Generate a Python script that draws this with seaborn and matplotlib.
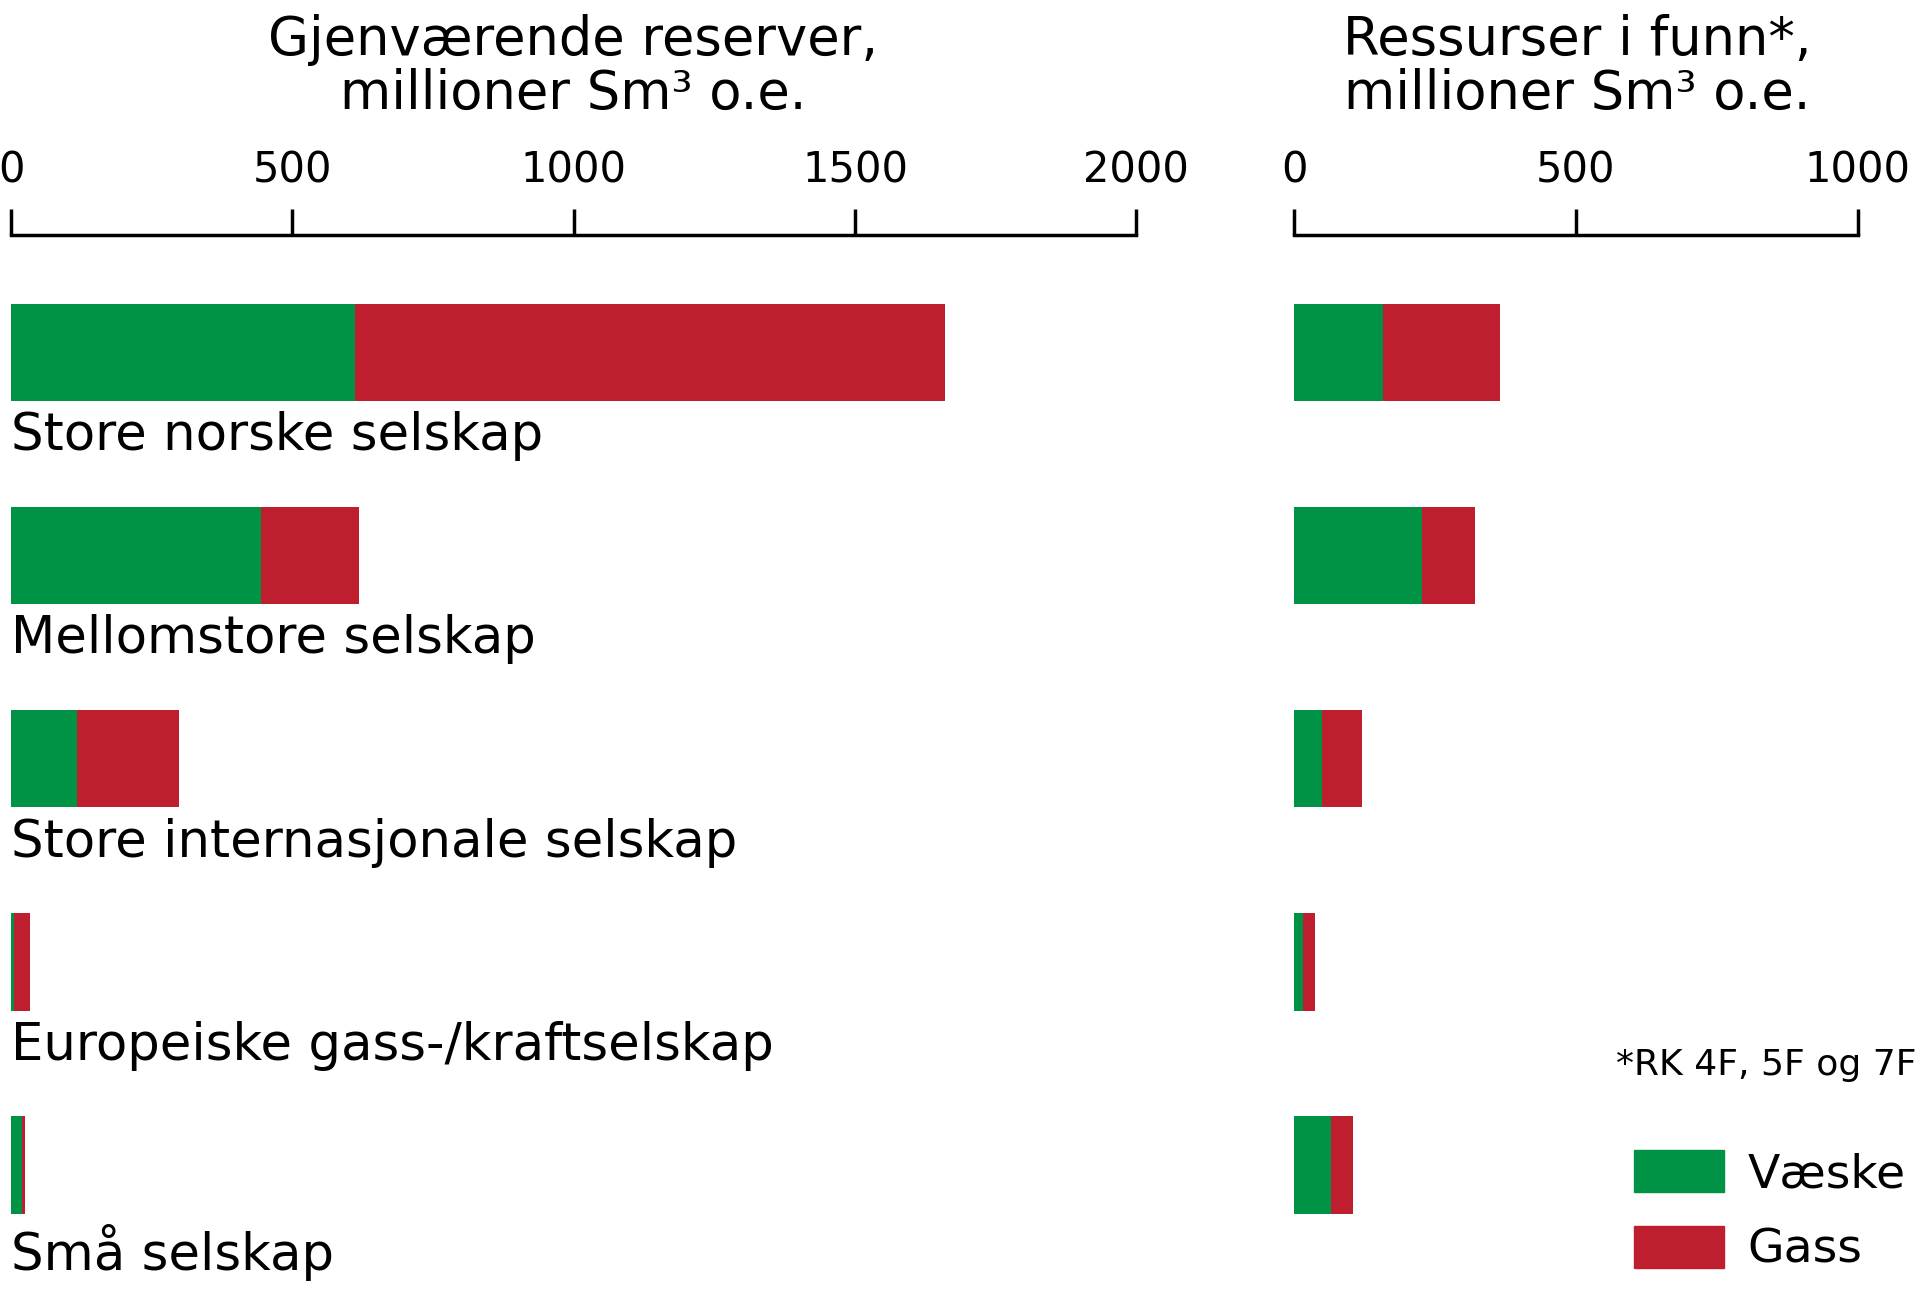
import numpy as np
import pandas as pd
import matplotlib
matplotlib.use("Agg")
import matplotlib.pyplot as plt
import seaborn as sns
from matplotlib.patches import Patch

categories = ["Store norske selskap", "Mellomstore selskap", "Store internasjonale selskap",
              "Europeiske gass-/kraftselskap", "Små selskap"]
reserver_vaeske = [611, 444, 117, 6, 20]
reserver_gass = [1049, 174, 181, 27, 4]
funn_vaeske = [157, 226, 50, 15, 65]
funn_gass = [208, 94, 70, 22, 39]

green = "#009245"
red = "#BE1E2D"

sns.set_theme(style="white")
plt.rcParams['font.family'] = ['DejaVu Sans']
plt.rcParams['text.color'] = 'black'
plt.rcParams['xtick.color'] = 'black'

W, H = 1568, 1055  # layout measured in reference display px
fig = plt.figure(figsize=(19.2, 12.91), dpi=100)

def make_ax(x0, x1, xmax, ticks):
    ax = fig.add_axes([x0 / W, 0, (x1 - x0) / W, 1 - 192 / H])
    ax.set_xlim(0, xmax)
    ax.set_ylim(4.62, -0.578)
    for s in ["left", "right", "bottom"]:
        ax.spines[s].set_visible(False)
    ax.spines["top"].set_linewidth(2.5)
    ax.spines["top"].set_color("black")
    ax.xaxis.tick_top()
    ax.set_xticks(ticks)
    ax.tick_params(axis="x", direction="out", length=19, width=2.5, color="black",
                   labelsize=30, pad=12)
    ax.set_yticks([])
    ax.patch.set_alpha(0)
    return ax

ax1 = make_ax(9, 928, 2000, [0, 500, 1000, 1500, 2000])
ax2 = make_ax(1057, 1517, 1000, [0, 500, 1000])

df1 = pd.DataFrame({"cat": categories, "v": reserver_vaeske,
                    "t": np.array(reserver_vaeske) + np.array(reserver_gass)})
df2 = pd.DataFrame({"cat": categories, "v": funn_vaeske,
                    "t": np.array(funn_vaeske) + np.array(funn_gass)})
ypos = np.arange(len(categories))

for ax, df in [(ax1, df1), (ax2, df2)]:
    ax.barh(ypos, df["t"], height=0.48, color=red, linewidth=0)
    ax.barh(ypos, df["v"], height=0.48, color=green, linewidth=0)

for i, c in enumerate(categories):
    ax1.text(0, i + 0.29, c, va="top", ha="left", fontsize=37)

fig.text(468 / W, 1 - 55 / H, "Gjenværende reserver,\nmillioner Sm³ o.e.",
         ha="center", va="center", fontsize=38, linespacing=1.05)
fig.text(1288 / W, 1 - 55 / H, "Ressurser i funn*,\nmillioner Sm³ o.e.",
         ha="center", va="center", fontsize=38, linespacing=1.05)
fig.text(1565 / W, 1 - 870 / H, "*RK 4F, 5F og 7F", ha="right", va="center", fontsize=26)

handles = [Patch(color=green, label="Væske"), Patch(color=red, label="Gass")]
fig.legend(handles=handles, loc="upper left", bbox_to_anchor=(1300 / W, 1 - 905 / H),
           frameon=False, fontsize=34, handlelength=1.9, handleheight=1.0,
           labelspacing=0.6, handletextpad=0.5)

fig.savefig("out.png", dpi=100)
